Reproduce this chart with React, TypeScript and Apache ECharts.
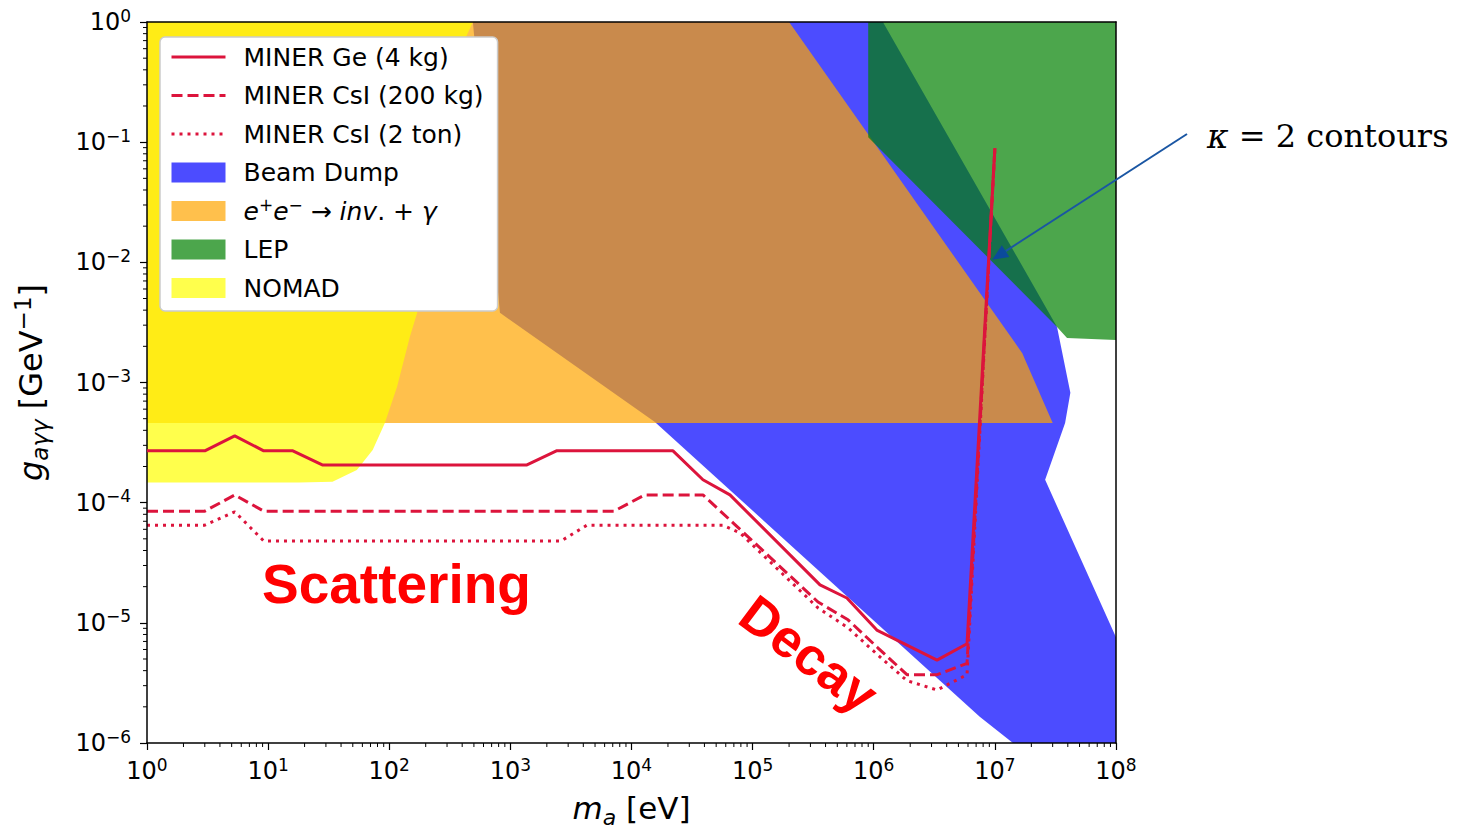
import React, { useEffect, useRef } from "react";
import * as echarts from "echarts";

// ---------------- data ----------------
// MINER Ge (4 kg) – solid
const geMass = [1, 3, 5.3, 9.2, 16, 28, 1370, 2400, 22000, 38900, 65000, 360000, 600000, 1.06e6, 3.33e6, 5.89e6, 1.0e7];
const geCoupling = [2.7e-4, 2.7e-4, 3.6e-4, 2.7e-4, 2.7e-4, 2.06e-4, 2.06e-4, 2.7e-4, 2.7e-4, 1.55e-4, 1.16e-4, 2.07e-5, 1.61e-5, 8.7e-6, 4.9e-6, 6.7e-6, 0.089];

// MINER CsI (200 kg) – dashed
const csi200Mass = [1, 3, 5.3, 9.2, 7170, 12900, 38900, 68900, 346700, 613000, 1.08e6, 1.88e6, 3.33e6, 5.89e6, 1.0e7];
const csi200Coupling = [8.5e-5, 8.5e-5, 1.16e-4, 8.5e-5, 8.5e-5, 1.16e-4, 1.16e-4, 6.8e-5, 1.49e-5, 1.06e-5, 6.2e-6, 3.7e-6, 3.7e-6, 4.6e-6, 0.089];

// MINER CsI (2 ton) – dotted
const csi2tMass = [1, 3, 5.3, 9.2, 2620, 4290, 56900, 78700, 346700, 613000, 1.08e6, 1.88e6, 3.33e6, 5.89e6, 1.0e7];
const csi2tCoupling = [6.5e-5, 6.5e-5, 8.4e-5, 4.8e-5, 4.8e-5, 6.5e-5, 6.5e-5, 5.6e-5, 1.33e-5, 9.1e-6, 5.4e-6, 3.3e-6, 2.76e-6, 3.7e-6, 0.089];

// Beam Dump region
const beamMass = [490, 820, 15600, 7.5e6, 1.41e7, 1e8, 1e8, 2.6e7, 3.8e7, 4.2e7, 3.26e7, 1.19e6];
const beamCoupling = [1, 3.8e-3, 4.7e-4, 1.65e-6, 1e-6, 1e-6, 7.6e-6, 1.55e-4, 4.6e-4, 8.2e-4, 2.9e-3, 1];

// e+e- -> inv + gamma region
const eeMass = [1, 2.0e5, 1.68e7, 3.0e7, 1];
const eeCoupling = [1, 1, 1.76e-3, 4.6e-4, 4.6e-4];

// LEP region
const lepMass = [9e5, 1e8, 1e8, 3.94e7, 3.26e7, 9e5];
const lepCoupling = [1, 1, 2.26e-3, 2.35e-3, 2.9e-3, 0.11];

// NOMAD region
const nomadMass = [1, 490, 430, 317, 225, 170, 148, 116, 92, 73, 54, 34, 18, 1];
const nomadCoupling = [1, 1, 0.75, 0.153, 0.0186, 3.8e-3, 2.4e-3, 9.2e-4, 4.6e-4, 2.74e-4, 1.87e-4, 1.49e-4, 1.47e-4, 1.47e-4];

// axes
const xRange = [1, 1e8];
const yRange = [1e-6, 1];
const xDecades = [0, 1, 2, 3, 4, 5, 6, 7];
const yDecades = [-6, -5, -4, -3, -2, -1];
const minorMultipliers = [2, 3, 4, 5, 6, 7, 8, 9];

// annotation
const arrowTipPoint = [9.5e6, 1.05e-2];

// ---------------- styling ----------------
const FONT = "'DejaVu Sans', sans-serif";
const RED = "#dc143c";
const NAME_GE = "MINER Ge (4 kg)";
const NAME_200 = "MINER CsI (200 kg)";
const NAME_2T = "MINER CsI (2 ton)";
const NAME_BEAM = "Beam Dump";
const NAME_EE = "e+e- -> inv. + gamma";
const NAME_LEP = "LEP";
const NAME_NOMAD = "NOMAD";

const zip = (a: number[], b: number[]) => a.map((v, i) => [v, b[i]]);

function regionSeries(name: string, mass: number[], coupling: number[], color: string) {
  const pts = zip(mass, coupling);
  return {
    type: "custom",
    name,
    coordinateSystem: "cartesian2d",
    silent: true,
    itemStyle: { color },
    data: [[1, 1]],
    z: 2,
    renderItem: (_p: any, api: any) => ({
      type: "polygon",
      shape: { points: pts.map((p) => api.coord(p)) },
      style: { fill: color },
    }),
  };
}

function lineSeries(name: string, mass: number[], coupling: number[], type: any, z: number) {
  return {
    type: "line",
    name,
    data: zip(mass, coupling),
    showSymbol: false,
    symbol: "none",
    z,
    itemStyle: { color: RED },
    lineStyle: { color: RED, width: 3, type },
  };
}

const expLabel = (v: number) => {
  const e = Math.round(Math.log10(v));
  return `{b|10}{s|${e < 0 ? "\u2212" + -e : e}}`;
};

const labelRich = {
  b: { fontSize: 24, lineHeight: 30, fontFamily: FONT, color: "#000" },
  s: { fontSize: 17, lineHeight: 17, verticalAlign: "top", fontFamily: FONT, color: "#000" },
};

const xMinor = xDecades.flatMap((d) => minorMultipliers.map((m) => m * Math.pow(10, d)));
const yMinor = yDecades.flatMap((d) => minorMultipliers.map((m) => m * Math.pow(10, d)));

const axisLineStyle = { color: "#000", width: 1.5 };
const hiddenSymbol = { opacity: 0, borderWidth: 0 };

const option: any = {
  animation: false,
  backgroundColor: "#ffffff",
  textStyle: { fontFamily: FONT },
  grid: { left: 147, right: 348, top: 22, bottom: 90, containLabel: false, outerBoundsMode: "none" },
  legend: {
    orient: "vertical",
    left: 160,
    top: 37,
    padding: [5, 14, 8, 10],
    itemGap: 8.5,
    itemWidth: 54,
    itemHeight: 20,
    selectedMode: false,
    backgroundColor: "#ffffff",
    borderColor: "#cccccc",
    borderWidth: 1.5,
    borderRadius: 5,
    lineStyle: { width: 3 },
    data: [
      { name: NAME_GE, itemStyle: hiddenSymbol },
      { name: NAME_200, itemStyle: hiddenSymbol },
      { name: NAME_2T, itemStyle: hiddenSymbol },
      { name: NAME_BEAM, icon: "rect" },
      { name: NAME_EE, icon: "rect" },
      { name: NAME_LEP, icon: "rect" },
      { name: NAME_NOMAD, icon: "rect" },
    ],
    formatter: (name: string) =>
      name === NAME_EE
        ? "{i|e}{sp|+}{i|e}{sp|\u2212}{n| \u2192 }{i|inv}{n|. + }{i|\u03b3}"
        : "{n|" + name + "}",
    textStyle: {
      fontFamily: FONT,
      fontSize: 25,
      lineHeight: 30,
      color: "#000",
      padding: [0, 0, 0, 13],
      rich: {
        n: { fontFamily: FONT, fontSize: 25, lineHeight: 30, color: "#000" },
        i: { fontFamily: FONT, fontSize: 25, lineHeight: 30, fontStyle: "italic", color: "#000" },
        sp: { fontFamily: FONT, fontSize: 17, lineHeight: 17, verticalAlign: "top", color: "#000" },
      },
    },
  },
  xAxis: [
    {
      type: "log",
      logBase: 10,
      min: xRange[0],
      max: xRange[1],
      splitNumber: 8,
      position: "bottom",
      z: 5,
      axisLine: { show: true, onZero: false, lineStyle: axisLineStyle },
      axisTick: { show: true, inside: false, length: 7, lineStyle: { color: "#000", width: 1.2 } },
      splitLine: { show: false },
      axisLabel: { margin: 13, formatter: expLabel, rich: labelRich, hideOverlap: false },
      name: "{i|m}{sub|a} [eV]",
      nameLocation: "middle",
      nameGap: 45,
      nameTextStyle: {
        fontFamily: FONT,
        fontSize: 31,
        lineHeight: 40,
        color: "#000",
        rich: {
          i: { fontFamily: FONT, fontSize: 31, lineHeight: 40, fontStyle: "italic", color: "#000" },
          sub: { fontFamily: FONT, fontSize: 22, lineHeight: 22, verticalAlign: "bottom", fontStyle: "italic", color: "#000" },
        },
      },
    },
    {
      type: "log",
      logBase: 10,
      min: xRange[0],
      max: xRange[1],
      position: "top",
      z: 5,
      axisLine: { show: true, onZero: false, lineStyle: axisLineStyle },
      axisTick: { show: false },
      axisLabel: { show: false },
      splitLine: { show: false },
    },
  ],
  yAxis: [
    {
      type: "log",
      logBase: 10,
      min: yRange[0],
      max: yRange[1],
      splitNumber: 6,
      position: "left",
      z: 5,
      axisLine: { show: true, onZero: false, lineStyle: axisLineStyle },
      axisTick: { show: true, inside: false, length: 7, lineStyle: { color: "#000", width: 1.2 } },
      splitLine: { show: false },
      axisLabel: { margin: 16, formatter: expLabel, rich: labelRich, hideOverlap: false },
      name: "{i|g}{sub|a\u03b3\u03b3} [GeV{sup|\u22121}]",
      nameLocation: "middle",
      nameRotate: 90,
      nameGap: 96,
      nameTextStyle: {
        fontFamily: FONT,
        fontSize: 32,
        lineHeight: 40,
        color: "#000",
        rich: {
          i: { fontFamily: FONT, fontSize: 32, lineHeight: 40, fontStyle: "italic", color: "#000" },
          sub: { fontFamily: FONT, fontSize: 23, lineHeight: 22, verticalAlign: "bottom", fontStyle: "italic", color: "#000" },
          sup: { fontFamily: FONT, fontSize: 23, lineHeight: 22, verticalAlign: "top", color: "#000" },
        },
      },
    },
    {
      type: "log",
      logBase: 10,
      min: yRange[0],
      max: yRange[1],
      position: "right",
      z: 5,
      axisLine: { show: true, onZero: false, lineStyle: axisLineStyle },
      axisTick: { show: false },
      axisLabel: { show: false },
      splitLine: { show: false },
    },
  ],
  series: [
    regionSeries(NAME_BEAM, beamMass, beamCoupling, "rgba(0,0,255,0.7)"),
    regionSeries(NAME_EE, eeMass, eeCoupling, "rgba(255,165,0,0.7)"),
    regionSeries(NAME_LEP, lepMass, lepCoupling, "rgba(0,128,0,0.7)"),
    regionSeries(NAME_NOMAD, nomadMass, nomadCoupling, "rgba(255,255,0,0.7)"),
    lineSeries(NAME_2T, csi2tMass, csi2tCoupling, [3, 5], 3),
    lineSeries(NAME_200, csi200Mass, csi200Coupling, [11, 5], 4),
    lineSeries(NAME_GE, geMass, geCoupling, "solid", 5),
    {
      type: "custom",
      silent: true,
      data: xMinor.map((v) => [v, yRange[0]]),
      z: 10,
      renderItem: (_p: any, api: any) => {
        const c = api.coord([api.value(0), yRange[0]]);
        return { type: "line", shape: { x1: c[0], y1: c[1], x2: c[0], y2: c[1] + 4 }, style: { stroke: "#000", lineWidth: 1 } };
      },
    },
    {
      type: "custom",
      silent: true,
      data: yMinor.map((v) => [xRange[0], v]),
      z: 10,
      renderItem: (_p: any, api: any) => {
        const c = api.coord([xRange[0], api.value(1)]);
        return { type: "line", shape: { x1: c[0] - 4, y1: c[1], x2: c[0], y2: c[1] }, style: { stroke: "#000", lineWidth: 1 } };
      },
    },
  ],
};

export default function App() {
  const ref = useRef<HTMLDivElement>(null);
  useEffect(() => {
    if (!ref.current) return;
    const chart = echarts.init(ref.current, null, { renderer: "svg" });
    chart.setOption(option);

    const tip = chart.convertToPixel({ gridIndex: 0 }, arrowTipPoint) as number[];
    const start = [1187, 134];
    const dx = tip[0] - start[0];
    const dy = tip[1] - start[1];
    const len = Math.sqrt(dx * dx + dy * dy);
    const ux = dx / len;
    const uy = dy / len;
    const headLen = 16;
    const headHalf = 7;
    const bx = tip[0] - ux * headLen;
    const by = tip[1] - uy * headLen;
    const arrowColor = "#1a56a3";

    chart.setOption({
      graphic: [
        {
          type: "line",
          z: 100,
          shape: { x1: start[0], y1: start[1], x2: bx, y2: by },
          style: { stroke: arrowColor, lineWidth: 2 },
        },
        {
          type: "polygon",
          z: 100,
          shape: {
            points: [
              [tip[0], tip[1]],
              [bx - uy * headHalf, by + ux * headHalf],
              [bx + uy * headHalf, by - ux * headHalf],
            ],
          },
          style: { fill: "#0b4a9b" },
        },
        {
          type: "text",
          z: 100,
          x: 1207,
          y: 136,
          style: {
            text: "{i|\u03ba} = 2 contours",
            fontFamily: "'DejaVu Serif', serif",
            fontSize: 32,
            fill: "#000",
            verticalAlign: "middle",
            rich: {
              i: { fontFamily: "'DejaVu Serif', serif", fontSize: 33, fontStyle: "italic", fill: "#000" } as any,
            },
          },
        },
        {
          type: "text",
          z: 100,
          x: 262,
          y: 584,
          style: {
            text: "Scattering",
            fontFamily: "'Liberation Sans', Arial, sans-serif",
            fontWeight: "bold",
            fontSize: 55,
            fill: "#ff0000",
            verticalAlign: "middle",
          },
        },
        {
          type: "text",
          z: 100,
          x: 809,
          y: 654,
          rotation: (-37 * Math.PI) / 180,
          style: {
            text: "Decay",
            fontFamily: "'Liberation Sans', Arial, sans-serif",
            fontWeight: "bold",
            fontSize: 53,
            fill: "#ff0000",
            align: "center",
            verticalAlign: "middle",
          },
        },
      ],
    });
    return () => chart.dispose();
  }, []);
  return (
    <div
      ref={ref}
      style={{ position: "absolute", left: 0, top: 0, width: 1464, height: 833, background: "#fff" }}
    />
  );
}
